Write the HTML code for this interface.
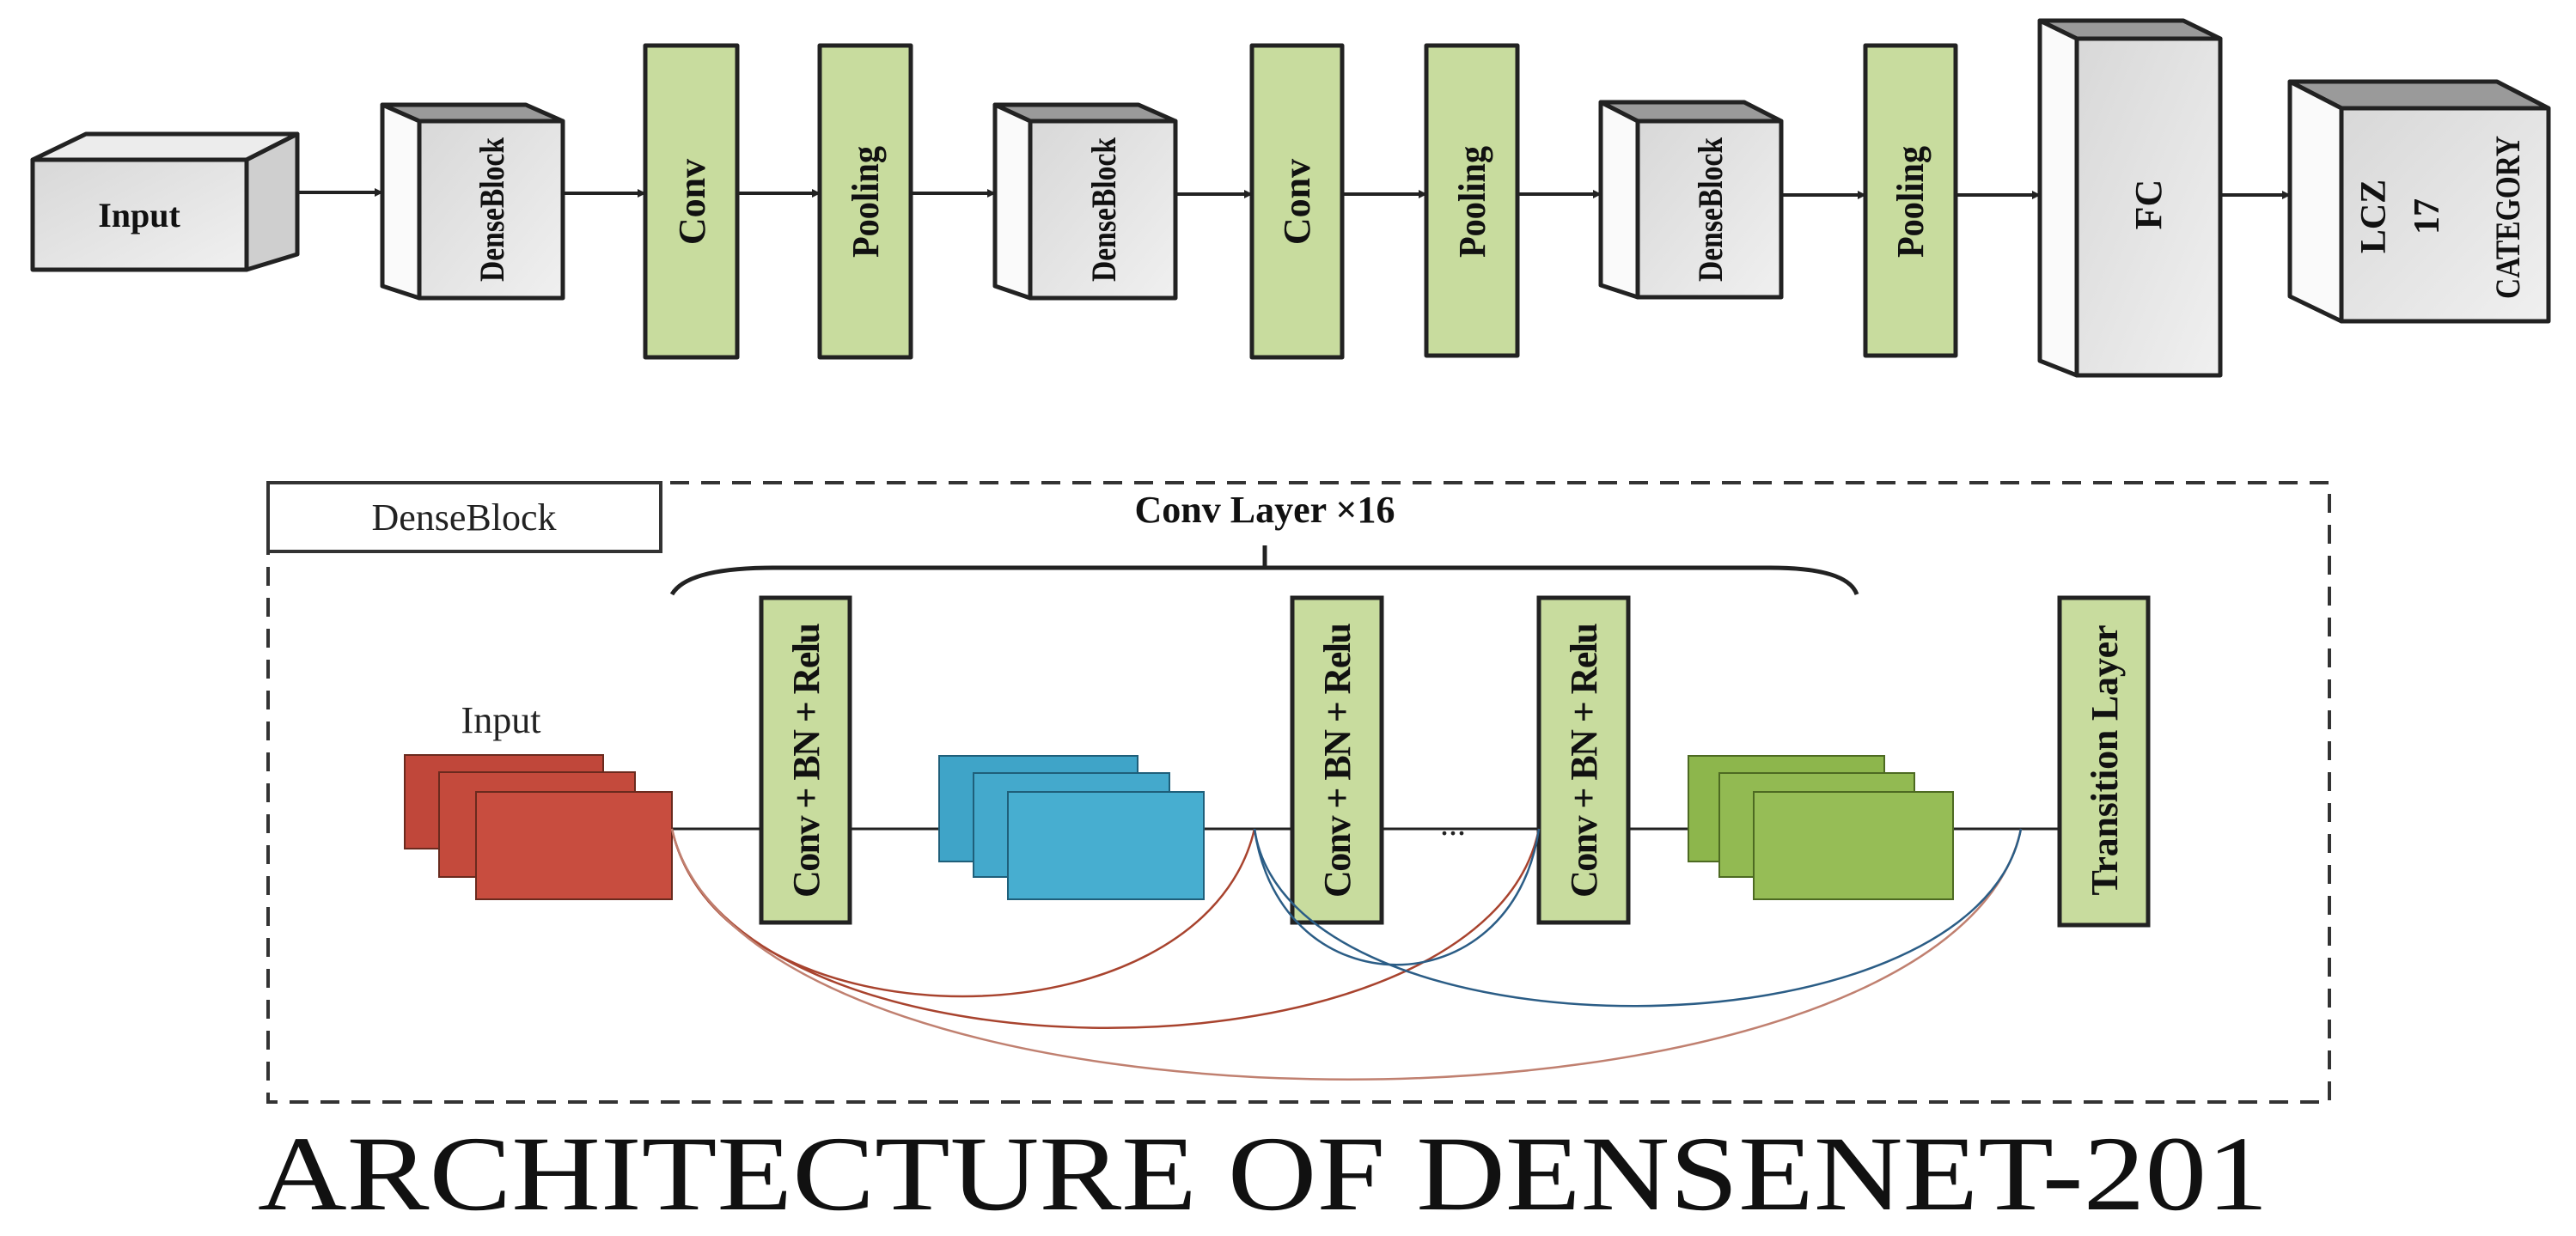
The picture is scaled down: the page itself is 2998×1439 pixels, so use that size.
<!DOCTYPE html>
<html><head><meta charset="utf-8"><style>
html,body{margin:0;padding:0;background:#fff;}
svg{display:block}
.t{font-family:"Liberation Serif",serif;font-weight:bold;fill:#111}
</style></head><body>
<svg width="2998" height="1439" viewBox="0 0 2998 1439" xmlns="http://www.w3.org/2000/svg">
<defs>
<marker id="ar" markerWidth="10" markerHeight="10" refX="9" refY="5" orient="auto" markerUnits="userSpaceOnUse"><path d="M0,0 L10,5 L0,10 z" fill="#222"/></marker>
<linearGradient id="gf" x1="0" y1="0" x2="1" y2="1"><stop offset="0" stop-color="#d8d8d8"/><stop offset="1" stop-color="#f0f0f0"/></linearGradient>
</defs>
<g stroke="#222" stroke-width="5" stroke-linejoin="round">
<polygon points="38,186 100,156 346,156 287,186" fill="#ececec"/>
<polygon points="287,186 346,156 346,296 287,314" fill="#cfcfcf"/>
<rect x="38" y="186" width="249" height="128" fill="url(#gf)"/>
<polygon points="445,122 612,122 655,141 488,141" fill="#9a9a9a"/>
<polygon points="445,122 488,141 488,347 445,333" fill="#fafafa"/>
<rect x="488" y="141" width="167" height="206" fill="url(#gf)"/>
<polygon points="1158,122 1325,122 1368,141 1199,141" fill="#9a9a9a"/>
<polygon points="1158,122 1199,141 1199,347 1158,333" fill="#fafafa"/>
<rect x="1199" y="141" width="169" height="206" fill="url(#gf)"/>
<polygon points="1863,119 2030,119 2073,141 1906,141" fill="#9a9a9a"/>
<polygon points="1863,119 1906,141 1906,346 1863,332" fill="#fafafa"/>
<rect x="1906" y="141" width="167" height="205" fill="url(#gf)"/>
<polygon points="2374,24 2541,24 2584,45 2417,45" fill="#9a9a9a"/>
<polygon points="2374,24 2417,45 2417,437 2374,420" fill="#fafafa"/>
<rect x="2417" y="45" width="167" height="392" fill="url(#gf)"/>
<polygon points="2665,95 2906,95 2966,126 2725,126" fill="#9a9a9a"/>
<polygon points="2665,95 2725,126 2725,374 2665,345" fill="#fafafa"/>
<rect x="2725" y="126" width="241" height="248" fill="url(#gf)"/>
<rect x="751" y="53" width="107" height="363" fill="#c8dc9e"/>
<rect x="954" y="53" width="106" height="363" fill="#c8dc9e"/>
<rect x="1457" y="53" width="105" height="363" fill="#c8dc9e"/>
<rect x="1660" y="53" width="106" height="361" fill="#c8dc9e"/>
<rect x="2171" y="53" width="105" height="361" fill="#c8dc9e"/>
</g>
<g stroke="#222" stroke-width="4" marker-end="url(#ar)">
<line x1="346" y1="224" x2="445" y2="224"/>
<line x1="655" y1="225" x2="751" y2="225"/>
<line x1="858" y1="225" x2="954" y2="225"/>
<line x1="1060" y1="225" x2="1158" y2="225"/>
<line x1="1368" y1="226" x2="1457" y2="226"/>
<line x1="1562" y1="226" x2="1660" y2="226"/>
<line x1="1766" y1="226" x2="1863" y2="226"/>
<line x1="2073" y1="227" x2="2171" y2="227"/>
<line x1="2276" y1="227" x2="2374" y2="227"/>
<line x1="2584" y1="227" x2="2665" y2="227"/>
</g>
<text class="t" x="162" y="264" font-size="40" text-anchor="middle">Input</text>
<text class="t" font-size="40" text-anchor="middle" transform="translate(586,244) rotate(-90)" textLength="168" lengthAdjust="spacingAndGlyphs">DenseBlock</text>
<text class="t" font-size="40" text-anchor="middle" transform="translate(1298,244) rotate(-90)" textLength="168" lengthAdjust="spacingAndGlyphs">DenseBlock</text>
<text class="t" font-size="40" text-anchor="middle" transform="translate(2004,244) rotate(-90)" textLength="168" lengthAdjust="spacingAndGlyphs">DenseBlock</text>
<text class="t" font-size="44" text-anchor="middle" transform="translate(820,235) rotate(-90)">Conv</text>
<text class="t" font-size="44" text-anchor="middle" transform="translate(1524,235) rotate(-90)">Conv</text>
<text class="t" font-size="44" text-anchor="middle" transform="translate(1022,235) rotate(-90)" textLength="130" lengthAdjust="spacingAndGlyphs">Pooling</text>
<text class="t" font-size="44" text-anchor="middle" transform="translate(1728,235) rotate(-90)" textLength="130" lengthAdjust="spacingAndGlyphs">Pooling</text>
<text class="t" font-size="44" text-anchor="middle" transform="translate(2238,235) rotate(-90)" textLength="130" lengthAdjust="spacingAndGlyphs">Pooling</text>
<text class="t" font-size="44" text-anchor="middle" transform="translate(2515,238) rotate(-90)">FC</text>
<text class="t" font-size="42" text-anchor="middle" transform="translate(2776,252) rotate(-90)">LCZ</text>
<text class="t" font-size="42" text-anchor="middle" transform="translate(2838,252) rotate(-90)">17</text>
<text class="t" font-size="40" text-anchor="middle" transform="translate(2932,253) rotate(-90)" textLength="190" lengthAdjust="spacingAndGlyphs">CATEGORY</text>

<rect x="312" y="562" width="2399" height="721" fill="none" stroke="#333" stroke-width="4" stroke-dasharray="22,14"/>
<rect x="312" y="562" width="457" height="80" fill="#fff" stroke="#333" stroke-width="4"/>
<text x="540" y="617" font-family="Liberation Serif,serif" font-size="44" text-anchor="middle" fill="#222">DenseBlock</text>
<text class="t" x="1472" y="608" font-size="44" text-anchor="middle">Conv Layer ×16</text>
<path d="M782 692 Q 800 661 900 661 L 2060 661 Q 2150 661 2161 692" fill="none" stroke="#222" stroke-width="5"/>
<line x1="1472" y1="635" x2="1472" y2="661" stroke="#222" stroke-width="5"/>
<line x1="782" y1="965" x2="2397" y2="965" stroke="#222" stroke-width="3"/>
<g stroke="#6a2a1e" stroke-width="2">
<rect x="471" y="879" width="231" height="109" fill="#c0473a"/>
<rect x="511" y="899" width="228" height="122" fill="#c44a3c"/>
<rect x="554" y="922" width="228" height="125" fill="#c84d3f"/>
</g>
<g stroke="#1f5f7a" stroke-width="2">
<rect x="1093" y="880" width="231" height="123" fill="#3fa4c8"/>
<rect x="1133" y="900" width="228" height="121" fill="#44a9cc"/>
<rect x="1173" y="922" width="228" height="125" fill="#47aed0"/>
</g>
<g stroke="#4d6a22" stroke-width="2">
<rect x="1965" y="880" width="228" height="123" fill="#8db64c"/>
<rect x="2001" y="900" width="227" height="121" fill="#92ba52"/>
<rect x="2041" y="922" width="232" height="125" fill="#96bd56"/>
</g>
<text x="583" y="853" font-family="Liberation Serif,serif" font-size="44" text-anchor="middle" fill="#222">Input</text>
<text x="1691" y="972" font-family="Liberation Serif,serif" font-size="40" text-anchor="middle" fill="#222">...</text>
<g stroke="#222" stroke-width="5" fill="#c8dc9e">
<rect x="886" y="696" width="103" height="378"/>
<rect x="1504" y="696" width="104" height="378"/>
<rect x="1791" y="696" width="104" height="378"/>
<rect x="2397" y="696" width="103" height="381"/>
</g>
<text class="t" font-size="44" text-anchor="middle" transform="translate(953,885) rotate(-90)" textLength="320" lengthAdjust="spacing">Conv + BN + Relu</text>
<text class="t" font-size="44" text-anchor="middle" transform="translate(1571,885) rotate(-90)" textLength="320" lengthAdjust="spacing">Conv + BN + Relu</text>
<text class="t" font-size="44" text-anchor="middle" transform="translate(1858,885) rotate(-90)" textLength="320" lengthAdjust="spacing">Conv + BN + Relu</text>
<text class="t" font-size="44" text-anchor="middle" transform="translate(2464,885) rotate(-90)" textLength="315" lengthAdjust="spacing">Transition Layer</text>
<g fill="none" stroke-width="2.5">
<path d="M782 965 C 840 1225, 1400 1225, 1460 965" stroke="#a8432e"/>
<path d="M782 965 C 850 1274, 1730 1274, 1791 965" stroke="#a8432e"/>
<path d="M782 965 C 870 1354, 2270 1354, 2352 965" stroke="#c08070"/>
<path d="M1460 965 C 1490 1176, 1760 1176, 1791 965" stroke="#2b5d86"/>
<path d="M1460 965 C 1500 1240, 2300 1240, 2352 965" stroke="#2b5d86"/>
</g>
<text x="300" y="1408" font-family="Liberation Serif,serif" font-size="124" fill="#111" textLength="2340" lengthAdjust="spacingAndGlyphs">ARCHITECTURE OF DENSENET-201</text>
</svg>
</body></html>
